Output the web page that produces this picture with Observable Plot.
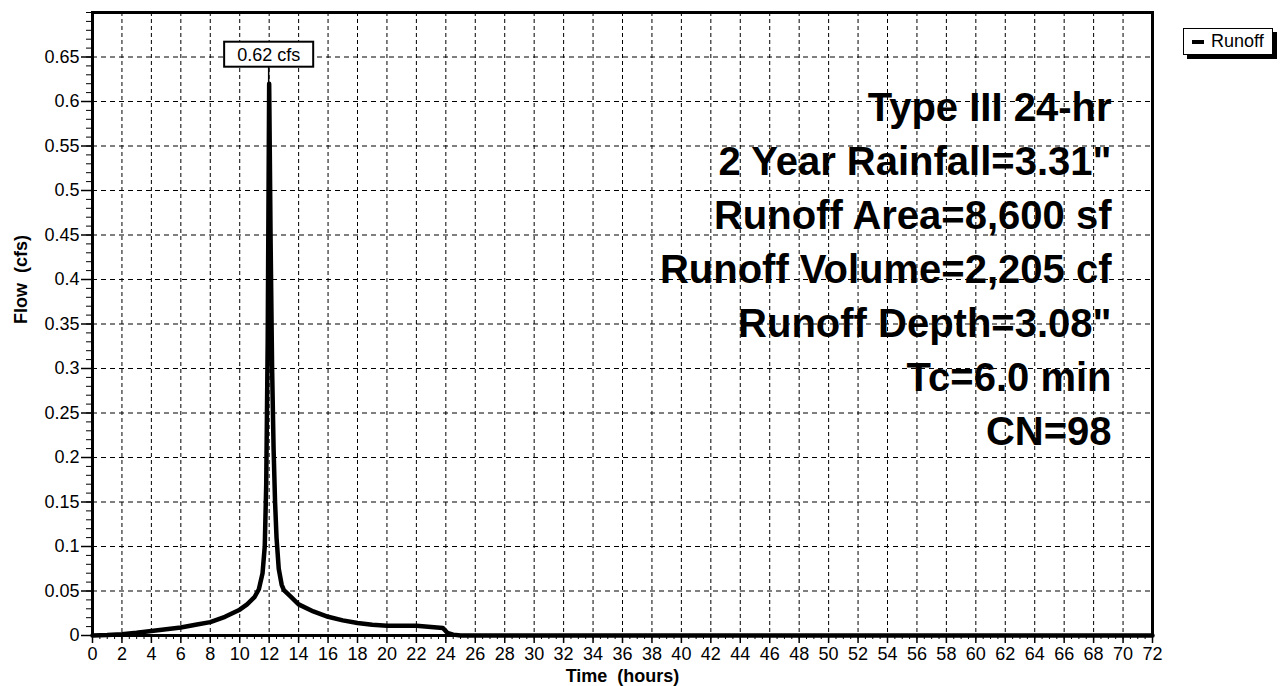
<!DOCTYPE html>
<html>
<head>
<meta charset="utf-8">
<script src="https://cdn.jsdelivr.net/npm/d3@7"></script>
<script src="https://cdn.jsdelivr.net/npm/@observablehq/plot@0.6"></script>
<style>
  body { margin: 0; background: #fff; }
  #chart { position: relative; width: 1284px; height: 686px; font-family: "Liberation Sans", Arial, sans-serif; }
  #legend {
    position: absolute; left: 1183px; top: 28px; width: 88px; height: 25px;
    border: 1.5px solid #000; box-shadow: 4px 4px 0 #000; background: #fff;
    display: flex; align-items: center; font-size: 18px; color: #000;
  }
  #legend .swatch { width: 12px; height: 4px; background: #000; margin: 0 7px 0 8px; }
</style>
</head>
<body>
<div id="chart">
  <div id="legend"><span class="swatch"></span><span>Runoff</span></div>
</div>
<script>
// Runoff hydrograph, time in hours and flow in cfs
const hours = [0, 1, 2, 3, 4, 5, 6, 7, 8, 9, 10, 10.5, 11, 11.3, 11.55, 11.7, 11.8, 11.9, 12.0,
  12.1, 12.2, 12.3, 12.4, 12.5, 12.65, 12.85, 13.0, 13.5, 14, 15, 16, 17, 18, 19, 20, 21, 22,
  23, 23.8, 24.1, 24.5, 25, 72];
const flows = [0, 0.0005, 0.0015, 0.003, 0.005, 0.007, 0.009, 0.012, 0.015, 0.021, 0.029, 0.035,
  0.043, 0.052, 0.07, 0.1, 0.17, 0.33, 0.62,
  0.44, 0.3, 0.21, 0.15, 0.11, 0.075, 0.057, 0.051, 0.043, 0.035, 0.027, 0.021, 0.017, 0.014,
  0.012, 0.011, 0.011, 0.011, 0.0095, 0.0085, 0.003, 0.001, 0, 0];

const peakHour = 12.0;
const peakFlow = 0.62;
const peakLabel = "0.62 cfs";

const xTickHours = [0, 2, 4, 6, 8, 10, 12, 14, 16, 18, 20, 22, 24, 26, 28, 30, 32, 34, 36,
  38, 40, 42, 44, 46, 48, 50, 52, 54, 56, 58, 60, 62, 64, 66, 68, 70, 72];
const yTickValues = [0, 0.05, 0.1, 0.15, 0.2, 0.25, 0.3, 0.35, 0.4, 0.45, 0.5, 0.55, 0.6, 0.65];
const yTickLabels = ["0", "0.05", "0.1", "0.15", "0.2", "0.25", "0.3", "0.35", "0.4", "0.45",
  "0.5", "0.55", "0.6", "0.65"];

const infoLines = [
  "Type III 24-hr",
  "2 Year Rainfall=3.31\"",
  "Runoff Area=8,600 sf",
  "Runoff Volume=2,205 cf",
  "Runoff Depth=3.08\"",
  "Tc=6.0 min",
  "CN=98"
];

const xTitle = "Time\u00a0 (hours)";
const yTitle = "Flow\u00a0 (cfs)";

const series = hours.map((h, i) => ({hours: h, flow: flows[i]}));
const yLabelOf = new Map(yTickValues.map((v, i) => [v, yTickLabels[i]]));
const xMinor = d3.range(0, 72.001, 0.5);
const yMinor = d3.range(0, 0.7001, 0.01).map(v => +v.toFixed(2));

const plot = Plot.plot({
  width: 1284,
  height: 686,
  marginLeft: 92,
  marginRight: 132,
  marginTop: 12,
  marginBottom: 51,
  style: {fontFamily: "'Liberation Sans', Arial, sans-serif", fontSize: "18px", color: "#000", background: "#fff"},
  x: {domain: [0, 72], label: null},
  y: {domain: [0, 0.7], label: null},
  marks: [
    // dashed grid
    Plot.ruleX(xTickHours.filter(d => d > 0 && d < 72), {stroke: "#000", strokeWidth: 1, strokeDasharray: "4,3"}),
    Plot.ruleY(yTickValues.filter(d => d > 0), {stroke: "#000", strokeWidth: 1, strokeDasharray: "5,4"}),
    // summary block
    Plot.text([infoLines.join("\n")], {
      frameAnchor: "top-right", text: d => d, textAnchor: "end", lineAnchor: "top",
      fontSize: 40, fontWeight: "bold", lineHeight: 1.35, dx: -41, dy: 70, fill: "#000"
    }),
    // hydrograph
    Plot.line(series, {x: "hours", y: "flow", stroke: "#000", strokeWidth: 4.5, strokeLinejoin: "round", strokeLinecap: "round"}),
    // axes
    Plot.axisX(xMinor, {tickSize: 4, tickFormat: () => "", strokeWidth: 1}),
    Plot.axisX(xTickHours, {tickSize: 8, tickPadding: 4, fontSize: 18, strokeWidth: 1.5, tickFormat: d => String(d)}),
    Plot.axisY(yMinor, {tickSize: 6, tickFormat: () => "", strokeWidth: 1}),
    Plot.axisY(yTickValues, {tickSize: 11, tickPadding: 2, fontSize: 18, strokeWidth: 1.5, tickFormat: d => yLabelOf.get(d)}),
    Plot.frame({stroke: "#000", strokeWidth: 3}),
    // axis titles
    Plot.text([xTitle], {frameAnchor: "bottom", lineAnchor: "middle", text: d => d, dy: 41, fontSize: 18, fontWeight: "bold", fill: "#000"}),
    Plot.text([yTitle], {frameAnchor: "left", lineAnchor: "middle", text: d => d, dx: -71, rotate: -90, fontSize: 18, fontWeight: "bold", fill: "#000"})
  ]
});

document.getElementById("chart").prepend(plot);

// peak callout: boxed label with a leader down to the peak
const sx = plot.scale("x"), sy = plot.scale("y");
const px = sx.apply(peakHour), py = sy.apply(peakFlow);
const svg = d3.select(plot);
const g = svg.append("g").attr("class", "peak-callout");
const label = g.append("text")
  .attr("x", px).attr("y", py - 29)
  .attr("text-anchor", "middle").attr("dy", "0.35em")
  .attr("font-size", 18).attr("fill", "#000")
  .text(peakLabel);
const bb = label.node().getBBox();
const padX = 13, boxH = 25;
const boxTop = py - 29 - boxH / 2;
g.insert("rect", "text")
  .attr("x", bb.x - padX).attr("y", boxTop)
  .attr("width", bb.width + 2 * padX).attr("height", boxH)
  .attr("fill", "#fff").attr("stroke", "#000").attr("stroke-width", 2);
g.insert("line", "rect")
  .attr("x1", px).attr("x2", px)
  .attr("y1", py).attr("y2", boxTop + boxH)
  .attr("stroke", "#000").attr("stroke-width", 1.5);
</script>
</body>
</html>
